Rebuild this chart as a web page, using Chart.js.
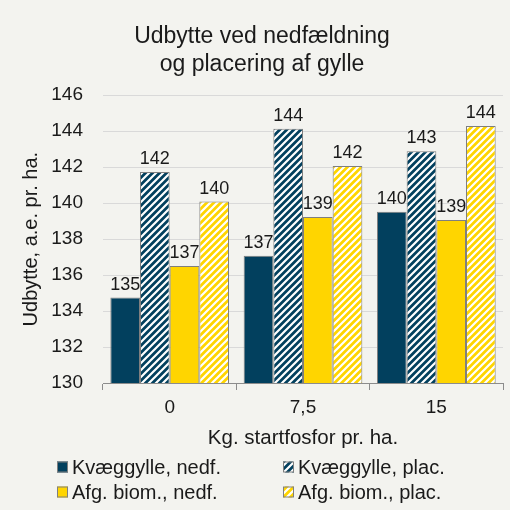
<!DOCTYPE html>
<html>
<head>
<meta charset="utf-8">
<script src="https://cdn.jsdelivr.net/npm/chart.js@4.4.1/dist/chart.umd.min.js"></script>
<style>
  html, body { margin: 0; padding: 0; background: #f3f3ef; }
  #wrap { width: 510px; height: 510px; }
</style>
</head>
<body>
<div id="wrap"><canvas id="chartUdbytte" width="510" height="510"></canvas></div>
<script>
// data
const kategorier = ['0', '7,5', '15']
const kvaegNedf = [134.75, 137.07, 139.52]
const kvaegPlac = [141.73, 144.14, 142.89]
const biomNedf = [136.5, 139.23, 139.06]
const biomPlac = [140.09, 142.07, 144.29]
const serieNavne = ['Kvæggylle, nedf.', 'Kvæggylle, plac.', 'Afg. biom., nedf.', 'Afg. biom., plac.']

const navy = '#02405e'
const gul = '#ffd500'
const kant = '#7f7f7f'
const fontFam = '"Liberation Sans", Arial, sans-serif'

function hatch(color) {
  const s = 7
  const c = document.createElement('canvas')
  c.width = s; c.height = s
  const g = c.getContext('2d')
  g.fillStyle = color
  g.fillRect(0, 0, s, s)
  g.strokeStyle = '#ffffff'
  g.lineWidth = 2.2
  g.beginPath()
  g.moveTo(-2, 2); g.lineTo(2, -2)
  g.moveTo(0, s); g.lineTo(s, 0)
  g.moveTo(s - 2, s + 2); g.lineTo(s + 2, s - 2)
  g.stroke()
  return g.createPattern(c, 'repeat')
}

const baggrund = {
  id: 'baggrund',
  beforeDraw(chart) {
    const ctx = chart.ctx
    ctx.save()
    ctx.fillStyle = '#f3f3ef'
    ctx.fillRect(0, 0, chart.width, chart.height)
    ctx.restore()
  }
}

// værdier over søjlerne
const etiketter = {
  id: 'etiketter',
  afterDatasetsDraw(chart) {
    const ctx = chart.ctx
    ctx.save()
    ctx.font = '18px ' + fontFam
    ctx.fillStyle = '#1a1a1a'
    ctx.textAlign = 'center'
    ctx.textBaseline = 'alphabetic'
    chart.data.datasets.forEach((ds, i) => {
      chart.getDatasetMeta(i).data.forEach((bar, j) => {
        ctx.fillText(Math.round(ds.data[j]), bar.x, bar.y - 8)
      })
    })
    ctx.restore()
  }
}

// forklaring i to kolonner
const forklaring = {
  id: 'forklaring',
  afterDraw(chart) {
    const ctx = chart.ctx
    const kolX = [57, 283]
    const raekY = [467, 492]
    ctx.save()
    ctx.font = '20px ' + fontFam
    ctx.textBaseline = 'middle'
    ctx.textAlign = 'left'
    chart.data.datasets.forEach((ds, i) => {
      const x = kolX[i % 2]
      const y = raekY[Math.floor(i / 2)]
      ctx.fillStyle = ds.backgroundColor
      ctx.fillRect(x, y - 5.5, 11, 11)
      ctx.strokeStyle = kant
      ctx.lineWidth = 1
      ctx.strokeRect(x + 0.5, y - 5, 10, 10)
      ctx.fillStyle = '#1a1a1a'
      ctx.fillText(ds.label, x + 15, y + 1)
    })
    ctx.restore()
  }
}

const graphic = document.getElementById('chartUdbytte')
const farver = [navy, hatch(navy), gul, hatch(gul)]
const serier = [kvaegNedf, kvaegPlac, biomNedf, biomPlac]

let graphicBar = new Chart(graphic, {
  type: 'bar',
  data: {
    labels: kategorier,
    datasets: serier.map((d, i) => ({
      label: serieNavne[i],
      data: d,
      backgroundColor: farver[i],
      borderColor: kant,
      borderWidth: 1,
      borderSkipped: false,
      barPercentage: 1,
      categoryPercentage: 0.89
    }))
  },
  options: {
    responsive: false,
    animation: false,
    layout: {
      padding: { left: 21, right: 7, top: 0, bottom: 55 }
    },
    plugins: {
      legend: { display: false },
      tooltip: { enabled: false },
      title: {
        display: true,
        text: ['Udbytte ved nedfældning', 'og placering af gylle'],
        color: '#1a1a1a',
        font: { family: fontFam, size: 23, weight: 'normal', lineHeight: 1.2 },
        padding: { top: 23, bottom: 17 }
      }
    },
    scales: {
      x: {
        grid: {
          offset: true,
          drawOnChartArea: false,
          drawTicks: true,
          tickLength: 7,
          color: '#8c8c8c'
        },
        border: { display: true, color: '#8c8c8c', width: 1 },
        ticks: {
          color: '#1a1a1a',
          padding: 6,
          font: { family: fontFam, size: 19 }
        },
        title: {
          display: true,
          text: 'Kg. startfosfor pr. ha.',
          color: '#1a1a1a',
          font: { family: fontFam, size: 20.5 },
          padding: { top: 4, bottom: 4 }
        },
        afterFit(s) { s.height = 72 }
      },
      y: {
        min: 130,
        max: 146,
        grid: { color: '#d9d9d9', drawTicks: false },
        border: { display: false },
        ticks: {
          stepSize: 2,
          color: '#1a1a1a',
          padding: 20,
          font: { family: fontFam, size: 19 }
        },
        title: {
          display: true,
          text: 'Udbytte, a.e. pr. ha.',
          color: '#1a1a1a',
          font: { family: fontFam, size: 20, lineHeight: 1 },
          padding: { top: 0, bottom: 0 }
        },
        afterFit(s) { s.width = 82 }
      }
    }
  },
  plugins: [baggrund, etiketter, forklaring]
})
</script>
</body>
</html>
